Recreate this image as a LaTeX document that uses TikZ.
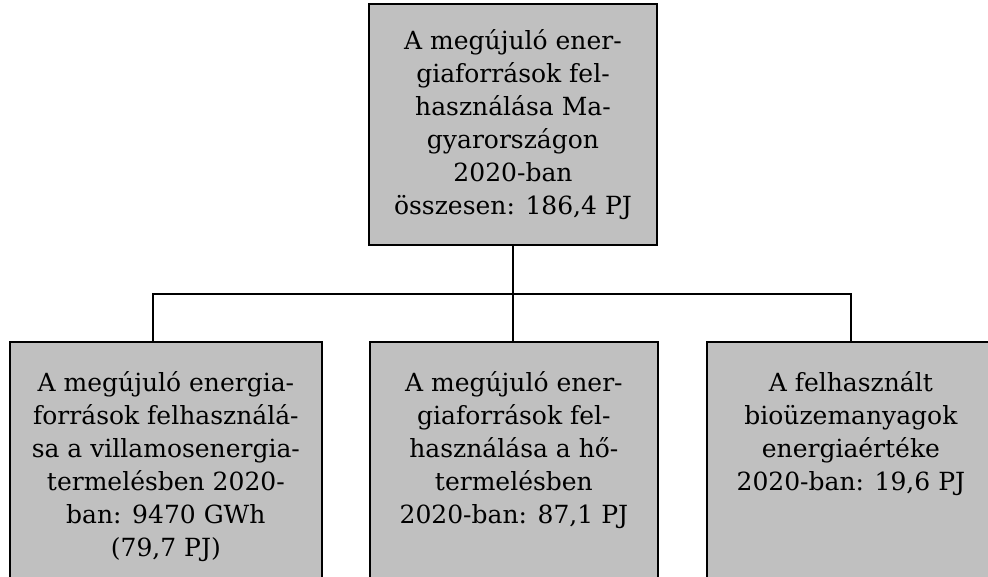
\documentclass[tikz,border=0pt]{standalone}
\usepackage{fontspec}
\setmainfont{DejaVu Serif}
\usetikzlibrary{positioning}
\definecolor{boxfill}{HTML}{C0C0C0}

\begin{document}
\begin{tikzpicture}[
    x=1pt, y=-1pt,
    font=\fontsize{25}{33}\selectfont,
    cell/.style={rectangle, draw=black, line width=1.8pt, fill=boxfill,
                 minimum width=#1, minimum height=300pt,
                 anchor=north west, inner sep=0pt},
    rootbox/.style={rectangle, draw=black, line width=1.8pt, fill=boxfill,
                    minimum width=288pt, minimum height=241pt, align=center},
    celltext/.style={align=center, inner sep=0pt, text=black},
    link/.style={draw=black, line width=1.8pt}
]
\clip (0,0) rectangle (988,577);

% Top: total use
\node[rootbox] (total) at (513,124.5)
    {A megújuló ener-\\giaforrások fel-\\használása Ma-\\gyarországon\\2020-ban\\összesen: 186,4 PJ};

% Bottom row boxes
\node[cell=312pt] (elec) at (9,341) {};
\node[cell=288pt] (heat) at (369,341) {};
\node[cell=288pt] (fuel) at (706,341) {};

% Bottom row texts
\node[celltext, below=30pt of elec.north] (elec text)
    {A megújuló energia-\\források felhasználá-\\sa a villamosenergia-\\termelésben 2020-\\ban: 9470 GWh\\(79,7 PJ)};
\node[celltext, below=30pt of heat.north] (heat text)
    {A megújuló ener-\\giaforrások fel-\\használása a hő-\\termelésben\\2020-ban: 87,1 PJ};
\node[celltext, below=30pt of fuel.north] (fuel text)
    {A felhasznált\\bioüzemanyagok\\energiaértéke\\2020-ban: 19,6 PJ};

% Connectors
\path (total.south) ++(0,48) coordinate (split);
\coordinate (elec in) at (153,341);
\draw[link] (total.south) -- (total.south |- heat.north);
\draw[link] (elec in) |- (split) -| (fuel.north);

\end{tikzpicture}
\end{document}
